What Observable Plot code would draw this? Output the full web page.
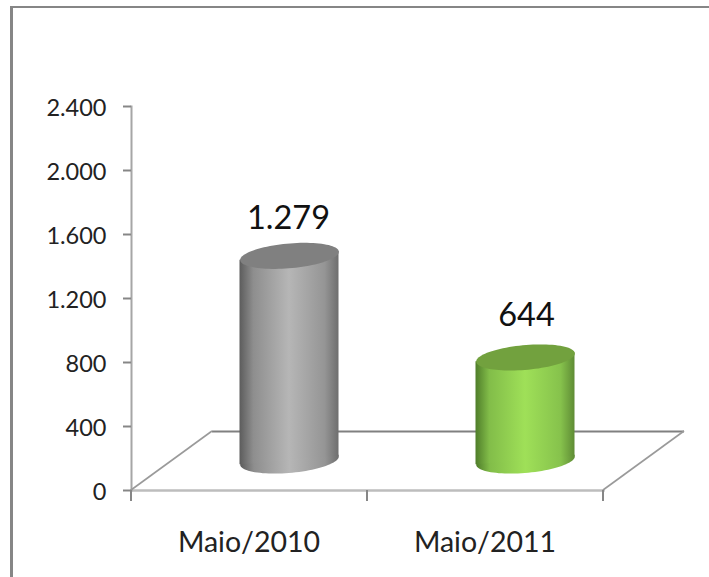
<!DOCTYPE html>
<html><head><meta charset="utf-8">
<script src="https://cdn.jsdelivr.net/npm/d3@7"></script>
<script src="https://cdn.jsdelivr.net/npm/@observablehq/plot@0.6"></script>
<style>
html,body{margin:0;padding:0;background:#fff;width:709px;height:577px;overflow:hidden;}
#border{position:absolute;left:10px;top:6px;right:0;bottom:0;border-left:3px solid #868686;border-top:2px solid #868686;}
#chart{position:absolute;left:0;top:0;}
.skew rect{transform-box:fill-box;transform-origin:center;transform:skewY(-5deg);}
</style></head><body>
<div id="border"></div><div id="chart"></div>
<script>
const categories = ["Maio/2010", "Maio/2011"];
const values = [1279, 644];
const yTicks = [0, 400, 800, 1200, 1600, 2000, 2400];
const stopOffsets = [0, 0.14, 0.5, 0.86, 1];
const gradientStops = [
  ["#5c5c5c", "#8e8e8e", "#b6b6b6", "#959595", "#6e6e6e"],
  ["#4f7d2a", "#82bd49", "#9fe058", "#86c24c", "#5f8c35"]
];
const topColors = ["#808080", "#72a13e"];

const fmt = d3.formatLocale({decimal: ",", thousands: ".", grouping: [3], currency: ["", ""]}).format(",");
const font = "Lato, 'Open Sans', sans-serif";
const depthX = 81, depthY = 59;          // floor depth in pixels
const barDx = depthX / 2, barDy = -30;   // cylinders stand in the middle of the floor

const ellipse = {
  draw(ctx, size) {
    const rx = Math.sqrt(size / Math.PI), ry = rx * 0.25, t = -5 * Math.PI / 180;
    for (let i = 0; i <= 90; ++i) {
      const a = i / 90 * 2 * Math.PI, ex = rx * Math.cos(a), ey = ry * Math.sin(a);
      const px = ex * Math.cos(t) - ey * Math.sin(t), py = ex * Math.sin(t) + ey * Math.cos(t);
      i ? ctx.lineTo(px, py) : ctx.moveTo(px, py);
    }
    ctx.closePath();
  }
};

function svgEl(name, attrs) {
  const e = document.createElementNS("http://www.w3.org/2000/svg", name);
  for (const k in attrs) e.setAttribute(k, attrs[k]);
  return e;
}
function defsMark() {
  const defs = svgEl("defs", {});
  gradientStops.forEach((stops, i) => {
    const g = svgEl("linearGradient", {id: "cyl" + i, x1: 0, x2: 1, y1: 0, y2: 0});
    stops.forEach((c, j) => g.appendChild(svgEl("stop", {offset: stopOffsets[j], "stop-color": c})));
    defs.appendChild(g);
  });
  return defs;
}
// Floor diagonals and the category tick marks at the band edges
function floorMark(index, scales, values, dim) {
  const g = svgEl("g", {});
  const y0 = scales.y(0), left = dim.marginLeft, right = dim.width - dim.marginRight;
  for (const x of [left, right])
    g.appendChild(svgEl("line", {x1: x, y1: y0, x2: x + depthX, y2: y0 - depthY, stroke: "#9a9a9a", "stroke-width": 1.6}));
  for (const x of [left, (left + right) / 2, right])
    g.appendChild(svgEl("line", {x1: x, y1: y0, x2: x, y2: y0 + 11, stroke: "#868686", "stroke-width": 2}));
  return g;
}

const plot = Plot.plot({
  width: 709, height: 577,
  marginLeft: 131, marginRight: 106, marginTop: 106, marginBottom: 87,
  style: {background: "none", fontFamily: font, overflow: "visible"},
  x: {domain: categories, paddingInner: 0.58, paddingOuter: 0.29, label: null},
  y: {domain: [0, 2400], label: null},
  marks: [
    defsMark,
    Plot.ruleY([0], {dx: depthX, dy: -depthY, stroke: "#808080", strokeWidth: 2}),
    Plot.frame({anchor: "bottom", stroke: "#bdbdbd", strokeWidth: 2.5}),
    Plot.frame({anchor: "left", stroke: "#a6a6a6", strokeWidth: 2}),
    floorMark,
    Plot.axisY({ticks: yTicks, tickFormat: () => "", tickSize: 8, stroke: "#868686", strokeWidth: 2, label: null}),
    Plot.axisY({ticks: yTicks, tickFormat: fmt, tickSize: 0, tickPadding: 25, dy: 1.5, fontSize: 23.5, fill: "#222", label: null}),
    Plot.axisX({tickSize: 0, tickPadding: 41, fontSize: 28.5, fill: "#222", label: null}),
    ...categories.flatMap((c, i) => {
      const d = [{c, v: values[i]}];
      const url = `url(#cyl${i})`;
      return [
        Plot.dot(d, {x: "c", y: () => 0, r: 49.5, symbol: ellipse, fill: url, stroke: "none", dx: barDx, dy: barDy}),
        Plot.barY(d, {x: "c", y: "v", fill: url, dx: barDx, dy: barDy, className: "skew"}),
        Plot.dot(d, {x: "c", y: "v", r: 49.5, symbol: ellipse, fill: topColors[i], stroke: "none", dx: barDx, dy: barDy}),
        Plot.text(d, {x: "c", y: "v", text: e => fmt(e.v), fontSize: 32.5, fill: "#111", dx: i ? 41.5 : 39.5, dy: i ? -72 : -67})
      ];
    })
  ]
});
document.getElementById("chart").appendChild(plot);
</script>
</body></html>
